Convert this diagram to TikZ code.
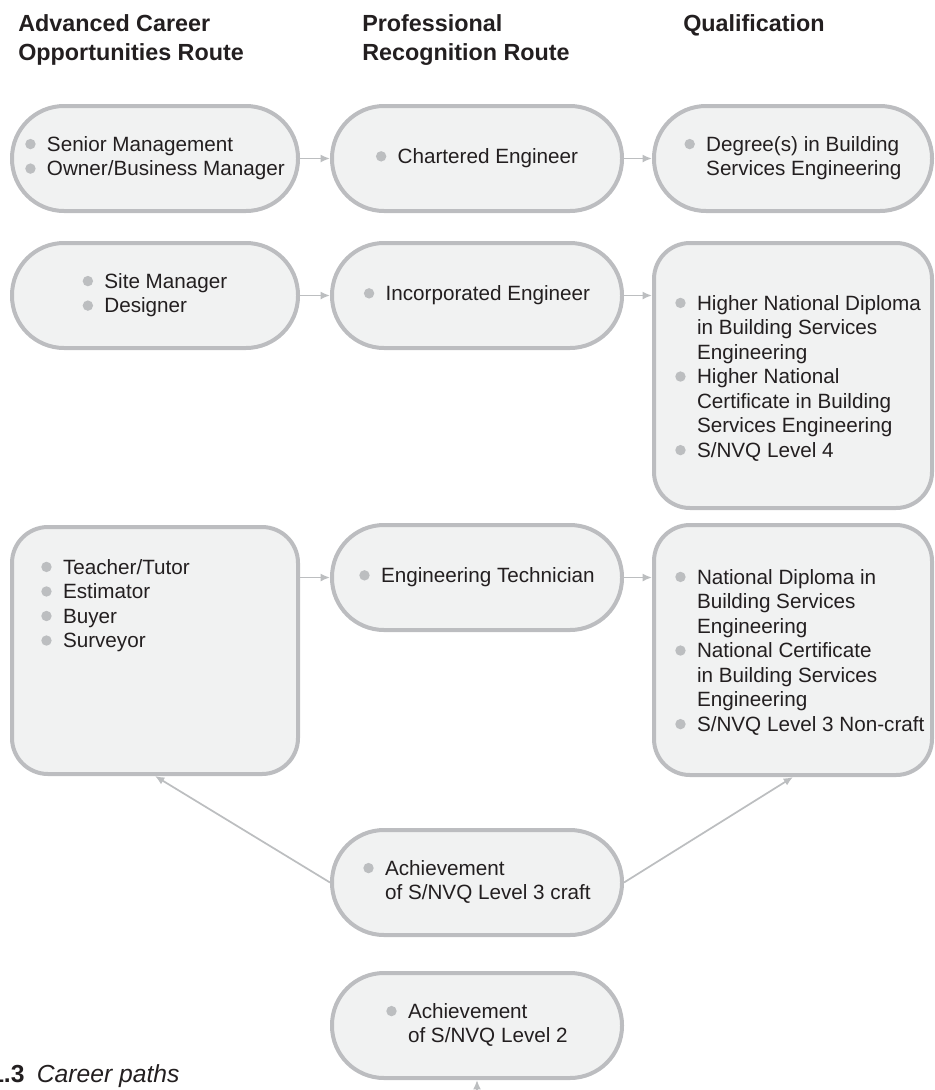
\documentclass[tikz,border=0pt]{standalone}
\usepackage{xcolor}
\usepackage{fontspec}
\setmainfont{Liberation Sans}
\usetikzlibrary{arrows.meta,calc,positioning}
\definecolor{boxfill}{HTML}{F1F2F2}
\definecolor{boxline}{HTML}{BCBDC0}
\definecolor{dotgray}{HTML}{BCBEC0}
\definecolor{inkgray}{HTML}{231F20}
\newcommand{\dotmark}{\tikz[baseline=-5.3pt]\fill[dotgray] (0,0) circle (3.9pt);}
\newcommand{\items}[1]{\begin{tabular}[t]{@{}c@{\hspace{8.5pt}}l@{}}#1\end{tabular}}

\begin{document}
\begin{tikzpicture}[x=0.75pt,y=-0.75pt]
	\tikzstyle{every node}=[font=\fontsize{15.5}{18.4}\selectfont, text=inkgray]
	\tikzstyle{pill}=[draw=boxline, fill=boxfill, line width=3pt, rounded corners=39pt, minimum height=78.75pt, inner sep=0pt]
	\tikzstyle{slab}=[draw=boxline, fill=boxfill, line width=3pt, rounded corners=27pt, inner sep=0pt]
	\tikzstyle{head}=[anchor=base west, inner sep=0pt, font=\fontsize{17.5}{22}\selectfont\bfseries]
	\tikzstyle{list}=[anchor=base west, inner sep=0pt]
	\tikzstyle{link}=[draw=dotgray, line width=1.3pt, -{Latex[length=7pt,width=6pt]}]
	\useasboundingbox (0,0) rectangle (935,1090);
	\node[head] (hadv) at (18,31) {\begin{tabular}[t]{@{}l@{}}Advanced Career\\Opportunities Route\end{tabular}};
	\node[head] (hpro) at (362,31) {\begin{tabular}[t]{@{}l@{}}Professional\\Recognition Route\end{tabular}};
	\node[head] (hqua) at (683,31) {Qualification};
	\node[pill, minimum width=214.5pt] (a1) at (155,158.5) {\items{\dotmark & Senior Management\\ \dotmark & Owner/Business Manager}};
	\node[pill, minimum width=217.5pt] (b1) at (477,158.5) {\items{\dotmark & Chartered Engineer}};
	\node[pill, minimum width=208.5pt] (c1) at (793,158.5) {\items{\dotmark & Degree(s) in Building\\ & Services Engineering}};
	\node[pill, minimum width=214.5pt] (a2) at (155,295.5) {\items{\dotmark & Site Manager\\ \dotmark & Designer}};
	\node[pill, minimum width=217.5pt] (b2) at (477,295.5) {\items{\dotmark & Incorporated Engineer}};
	\node[slab, minimum width=208.5pt, minimum height=198.75pt] (c2) at (793,375.5) {};
	\node[list] (c2txt) at (675,310) {\items{\dotmark & Higher National Diploma\\ & in Building Services\\ & Engineering\\ \dotmark & Higher National\\ & Certificate in Building\\ & Services Engineering\\ \dotmark & S/NVQ Level 4}};
	\node[slab, minimum width=214.5pt, minimum height=185.25pt] (a3) at (155,650.5) {};
	\node[list] (a3txt) at (41,574) {\items{\dotmark & Teacher/Tutor\\ \dotmark & Estimator\\ \dotmark & Buyer\\ \dotmark & Surveyor}};
	\node[pill, minimum width=217.5pt] (b3) at (477,577.5) {\items{\dotmark & Engineering Technician}};
	\node[slab, minimum width=208.5pt, minimum height=187.5pt] (c3) at (793,650) {};
	\node[list] (c3txt) at (675,584) {\items{\dotmark & National Diploma in\\ & Building Services\\ & Engineering\\ \dotmark & National Certificate\\ & in Building Services\\ & Engineering\\ \dotmark & S/NVQ Level 3 Non-craft}};
	\node[pill, minimum width=217.5pt] (d) at (477,882.5) {\items{\dotmark & Achievement\\ & of S/NVQ Level 3 craft}};
	\node[pill, minimum width=217.5pt] (e) at (477,1025.5) {\items{\dotmark & Achievement\\ & of S/NVQ Level 2}};
	\node[anchor=base west, inner sep=0pt, font=\fontsize{18.5}{22}\selectfont] (cap) at (-10,1082) {\textbf{1.3}\enspace\textit{Career paths}};
	\coordinate (lowin) at (477,1100);
	\draw[link] (a1) -- (b1);
	\draw[link] (b1) -- (c1);
	\draw[link] (a2) -- (b2);
	\draw[link] (b2) -- (b2 -| c2.west);
	\draw[link] (a3.east |- b3) -- (b3);
	\draw[link] (b3) -- (b3 -| c3.west);
	\draw[link] (d.west) -- (a3.south);
	\draw[link] (d.east) -- (c3.south);
	\draw[link] (lowin) -- (e);
\end{tikzpicture}
\end{document}
